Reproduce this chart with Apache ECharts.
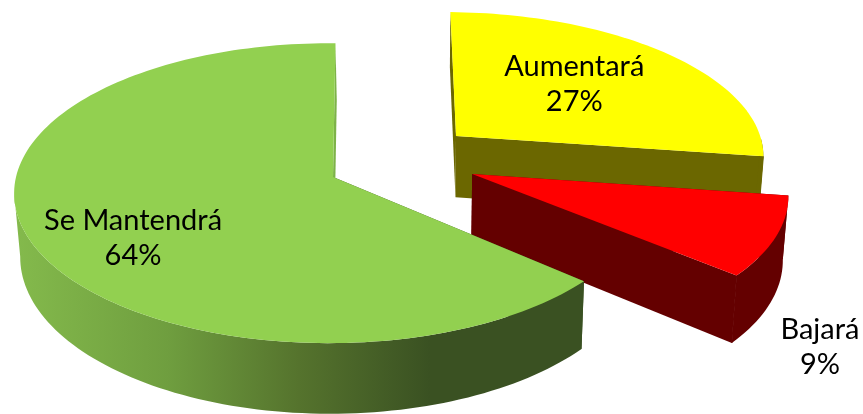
<!DOCTYPE html>
<html><head><meta charset="utf-8">
<style>html,body{margin:0;padding:0;background:#fff}#c{width:863px;height:414px}</style>
<script src="https://cdn.jsdelivr.net/npm/echarts@6/dist/echarts.min.js"></script>
</head><body><div id="c"></div>
<script>
const categories = ['Aumentará', 'Bajará', 'Se Mantendrá'];
const shares = [27, 9, 64];

// View model of the tilted disc: a circle in a plane under a simple perspective.
const view = {cx:333, cy:177, rx:317, ry:149.7, persp:0.109, depth:63, vanishX:420, shrink:0.985, firstAngle:-88.8};
// Per-slice appearance and placement (explosion, rim fit and label anchor in disc units).
const sliceStyle = [
  {top:'#FFFF00', openWall:'#6B6700', closeWall:'#6B6700', side:'#6B6700',
   explode:[0.40,-0.282], shift:[0,0], scale:[0.989,0.97], label:[0.416,-0.38]},
  {top:'#FF0000', openWall:'#640000', closeWall:'#640000', side:'#640000',
   explode:[0.44,-0.02], shift:[0,0], scale:[0.988,0.97], label:[0.927,1.03]},
  {top:'#92D050', openWall:'#3A5122', closeWall:'#7DB348', side:'#3A5122',
   explode:[0,0], shift:[-0.012,0], scale:[0.988,0.99], label:[-0.604,0.39],
   wall:{type:'linear',x:0,y:0,x2:1,y2:0,colorStops:[
     {offset:0,color:'#84BA4C'},{offset:0.27,color:'#6F9E3F'},{offset:0.5,color:'#55732D'},{offset:0.73,color:'#3A5122'},{offset:1,color:'#3A5122'}]}}
];
const total = shares.reduce((a,b)=>a+b,0);

function project(a,b){
  const d = 1 - view.persp*b;
  return {x:view.cx+view.rx*a/d, y:view.cy+view.ry*b/d, d};
}
function drop(p){
  return [view.vanishX+(p.x-view.vanishX)*view.shrink, p.y+view.depth/p.d];
}
function arc(s,a0,a1){
  const o=s.explode, out=[], n=Math.max(8,Math.round(Math.abs(a1-a0)/1.5));
  for(let i=0;i<=n;i++){
    const t=(a0+(a1-a0)*i/n)*Math.PI/180;
    const a=o[0]+s.shift[0]+s.scale[0]*Math.cos(t), b=o[1]+s.shift[1]+s.scale[1]*Math.sin(t);
    const p=project(a,b); p.angle=a0+(a1-a0)*i/n;
    out.push(p);
  }
  return out;
}
function renderItem(params,api){
  const i=params.dataIndex, s=sliceStyle[i], value=api.value(0);
  let before=0; for(let k=0;k<i;k++) before+=shares[k];
  const a0=view.firstAngle+before/total*360, a1=a0+value/total*360, o=s.explode;
  const apex=project(o[0],o[1]);
  const rim=arc(s,a0,a1);
  const xy=p=>[p.x,p.y];
  const children=[];
  const poly=(pts,fill)=>children.push({type:'polygon',shape:{points:pts},style:{fill,stroke:null}});

  poly([xy(apex),xy(rim[0]),drop(rim[0]),drop(apex)], s.openWall);
  const last=rim[rim.length-1];
  poly([xy(apex),xy(last),drop(last),drop(apex)], s.closeWall);
  // outer wall: only the part of the rim facing the viewer
  const front=rim.filter(p=>{const n=((p.angle%360)+360)%360; return n<=174;});
  if(front.length>1){
    poly(front.map(xy).concat(front.slice().reverse().map(drop)), s.wall||s.side);
  }
  // hide the hairline between the closing wall and the outer wall of flat-coloured slices
  if(!s.wall){
    const b=drop(last);
    children.push({type:'line',shape:{x1:last.x,y1:last.y,x2:b[0],y2:b[1]},style:{stroke:s.side,lineWidth:1}});
  }
  // top face
  poly([xy(apex)].concat(rim.map(xy)), s.top);
  // label
  const l=project(o[0]+s.label[0],o[1]+s.label[1]);
  children.push({type:'text',style:{
    text:categories[i]+'\n'+value+'%',x:l.x,y:l.y,align:'center',verticalAlign:'middle',
    font:'29px Lato',lineHeight:35,fill:'#000'}});
  return {type:'group',children};
}
const chart=echarts.init(document.getElementById('c'),null,{renderer:'canvas'});
chart.setOption({
  animation:false,
  backgroundColor:'#fff',
  series:[{type:'custom',coordinateSystem:'none',silent:true,renderItem,clip:false,
    data:shares.map((v,i)=>({name:categories[i],value:[v]}))}]
});
</script></body></html>
